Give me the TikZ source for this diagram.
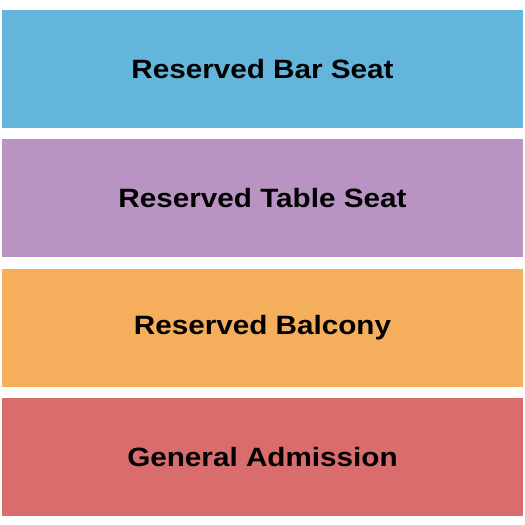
\documentclass[tikz,border=0pt]{standalone}
\usepackage{fontspec}
\setmainfont{Liberation Sans}[FakeStretch=1.12]
\usepackage{tikz}
\usetikzlibrary{positioning}

\definecolor{barblue}{RGB}{99,181,220}
\definecolor{tablepurple}{RGB}{185,147,194}
\definecolor{balconyorange}{RGB}{244,174,92}
\definecolor{generalred}{RGB}{217,108,108}

\tikzset{
  seatblock/.style={draw=none,minimum width=521pt,minimum height=118pt,inner sep=0pt,
    font=\bfseries\fontsize{26.5}{30}\selectfont}
}

\begin{document}
\begin{tikzpicture}[x=1pt,y=1pt]

\useasboundingbox[fill=white] (0,0) rectangle (525,-525);

\coordinate (s0) at (262.5,-69);

\node[seatblock,fill=barblue] (bar) at (s0) {Reserved Bar Seat};
\node[seatblock,fill=tablepurple,below=11pt of bar] (table) {Reserved Table Seat};
\node[seatblock,fill=balconyorange,below=11pt of table] (balcony) {Reserved Balcony};
\node[seatblock,fill=generalred,below=11pt of balcony] (general) {General Admission};

\end{tikzpicture}
\end{document}
